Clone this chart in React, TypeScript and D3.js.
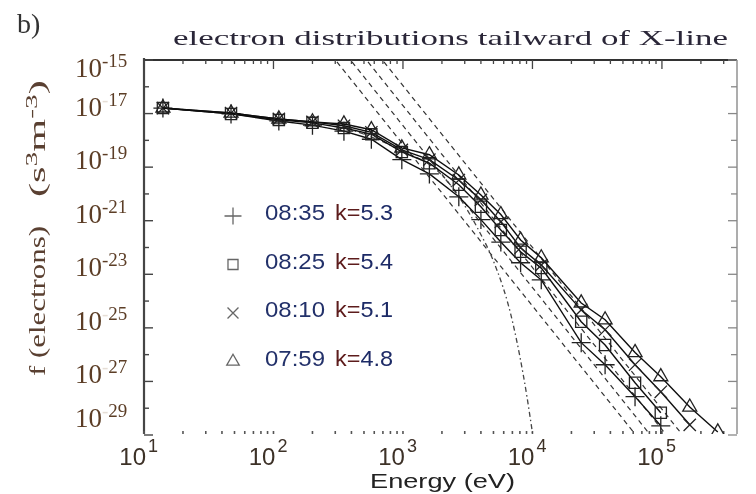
import React from "react";
import * as d3 from "d3";

// electron distribution f(E) for four intervals, tailward of the X-line
const width = 756;
const height = 494;
const plot = { left: 144, right: 737, top: 60, bottom: 434 };

const energies = [14, 47, 110, 200, 350, 570, 980, 1600, 2700, 4000, 5700, 8100, 11700, 23800, 36400, 62000, 98000, 164000, 270000];

const f0835 = [1.6e-17, 9.7e-18, 5.3e-18, 3.7e-18, 2.2e-18, 1.1e-18, 1.9e-19, 5.6e-20, 7.8e-21, 1.1e-21, 1.6e-22, 2.7e-23, 6.2e-24, 2.8e-26, 4.2e-27, 2.7e-28, 2.2e-29];
const f0825 = [1.6e-17, 9.7e-18, 5.8e-18, 4.5e-18, 2.9e-18, 1.7e-18, 3.7e-19, 1.4e-19, 2.2e-20, 3.3e-21, 4.5e-22, 6.9e-23, 1.7e-23, 1.7e-25, 2.3e-26, 8.9e-28, 6.8e-29];
const f0810 = [1.6e-17, 1.05e-17, 6.3e-18, 4.9e-18, 3.5e-18, 2.0e-18, 4.4e-19, 1.9e-19, 3.3e-20, 6.0e-21, 9.1e-22, 9.8e-23, 2.2e-23, 4.7e-25, 8.5e-26, 4.2e-27, 4.1e-28, 2.4e-29];
const f0759 = [1.62e-17, 1.05e-17, 6.3e-18, 4.9e-18, 4.1e-18, 2.5e-18, 5.2e-19, 2.9e-19, 5.1e-20, 9.1e-21, 1.7e-21, 1.9e-22, 4.1e-23, 8.5e-25, 2.0e-25, 1.2e-26, 1.5e-27, 1.1e-28, 1.3e-29];

const times = ["08:35", "08:25", "08:10", "07:59"];
const kappas = ["5.3", "5.4", "5.1", "4.8"];
const seriesValues = [f0835, f0825, f0810, f0759];

// power law tails (dashed), start and end
const fitStartE = [309, 404, 537, 713];
const fitStartF = [8.5e-16, 8.5e-16, 8.5e-16, 8.5e-16];
const fitEndE = [6.1e4, 7.9e4, 1.05e5, 1.4e5];
const fitEndF = [1.2e-29, 1.2e-29, 1.2e-29, 1.2e-29];

// maxwellian core (dash-dot)
const maxwellE = [300, 950, 2000, 3940, 4950, 7060, 9070, 10000];
const maxwellF = [4e-18, 4.4e-19, 5e-20, 3.5e-22, 3.5e-23, 1.5e-25, 2.7e-28, 1.2e-29];

const yExponents = [-15, -17, -19, -21, -23, -25, -27, -29];
const fadedMinus = [-17, -25, -27, -29];
const xExponents = [1, 2, 3, 4, 5];

const serif = "'Liberation Serif', 'DejaVu Serif', serif";
const sans = "'Liberation Sans', Arial, sans-serif";

const xScale = d3.scaleLog().domain([10, 3.8e5]).range([plot.left, plot.right]);
const yScale = d3.scaleLog().domain([1e-29, 1e-15]).range([435, plot.top]);

const symbolTypes = [d3.symbolPlus, d3.symbolSquare2, d3.symbolTimes, d3.symbolTriangle2];
const symbolSizes = [120, 160, 100, 140];

function App() {
  const line = d3
    .line<[number, number]>()
    .x((d) => xScale(d[0]))
    .y((d) => yScale(d[1]));
  const curve = d3
    .line<[number, number]>()
    .x((d) => xScale(d[0]))
    .y((d) => yScale(d[1]))
    .curve(d3.curveMonotoneX);

  const series = seriesValues.map((vals) => vals.map((v, i) => [energies[i], v] as [number, number]));
  const maxwell = maxwellE.map((e, i) => [e, maxwellF[i]] as [number, number]);

  const xTicks = xScale.ticks();
  const decades = d3.range(-29, -14);

  return (
    <svg width={width} height={height} style={{ display: "block", position: "absolute", left: 0, top: 0 }}>
      <defs>
        <clipPath id="plotClip">
          <rect x={plot.left} y={plot.top} width={plot.right - plot.left} height={plot.bottom - plot.top} />
        </clipPath>
        <filter id="soft" x="-5%" y="-5%" width="110%" height="110%">
          <feGaussianBlur stdDeviation="0.5" />
        </filter>
      </defs>
      <rect width={width} height={height} fill="#fff" />
      <g filter="url(#soft)">
        <text x={17} y={33} fontFamily={serif} fontSize={28} fill="#333">b)</text>
        <text x={173} y={45} fontFamily={serif} fontSize={22} fill="#2c2838" textLength={555} lengthAdjust="spacingAndGlyphs">
          electron distributions tailward of X-line
        </text>

        {/* axis frame */}
        <line x1={plot.left} x2={plot.left} y1={58} y2={plot.bottom} stroke="#444" strokeWidth={2.2} />
        <line x1={plot.left} x2={plot.right} y1={plot.top} y2={plot.top} stroke="#333" strokeWidth={2} />
        <line x1={plot.right} x2={plot.right} y1={plot.top} y2={plot.bottom} stroke="#999" strokeWidth={1.6} />

        {/* top + bottom ticks */}
        {xTicks.map((t, i) => {
          const major = Math.abs(Math.log10(t) - Math.round(Math.log10(t))) < 1e-9;
          const x = xScale(t);
          return (
            <g key={"xt" + i}>
              <line x1={x} x2={x} y1={plot.top} y2={plot.top + (major ? 9 : 4)} stroke="#444" strokeWidth={1.3} />
              <line x1={x} x2={x} y1={plot.bottom - 3} y2={plot.bottom} stroke="#555" strokeWidth={1.6} />
            </g>
          );
        })}

        {/* left + right ticks */}
        {decades.map((e) => {
          const y = yScale(Math.pow(10, e));
          const major = Math.abs(e) % 2 === 1;
          return (
            <g key={"yt" + e}>
              <line x1={plot.left} x2={plot.left + (major ? 9 : 5)} y1={y} y2={y} stroke="#444" strokeWidth={1.4} />
              <line x1={plot.right} x2={plot.right - (major ? 9 : 6)} y1={y} y2={y} stroke="#888" strokeWidth={1.3} />
            </g>
          );
        })}

        {/* y tick labels */}
        {yExponents.map((e) => {
          const base = Math.min(427, Math.max(77, yScale(Math.pow(10, e)) + 2));
          const faded = fadedMinus.includes(e);
          return (
            <g key={"yl" + e} fontFamily={serif} fill="#5b3d26">
              <text x={102} y={base} textAnchor="end" fontSize={27}>10</text>
              <text x={102} y={base - 10} fontSize={19}>
                <tspan fill={faded ? "#e6ded6" : "#5b3d26"}>-</tspan>
                {String(Math.abs(e))}
              </text>
            </g>
          );
        })}

        {/* x tick labels */}
        {xExponents.map((e) => {
          const x = xScale(Math.pow(10, e));
          return (
            <g key={"xl" + e} fontFamily={sans} fill="#3c3028">
              <text x={x + 2} y={465} textAnchor="end" fontSize={24}>10</text>
              <text x={x + 4} y={452} fontSize={18}>{e}</text>
            </g>
          );
        })}

        <text x={370} y={488} fontFamily={sans} fontSize={21} fill="#222" textLength={145} lengthAdjust="spacingAndGlyphs">
          Energy  (eV)
        </text>

        {/* y axis title */}
        <text transform="translate(45,376) rotate(-90)" fontFamily={serif} fontSize={23} fill="#5a4030" textLength={150} lengthAdjust="spacingAndGlyphs">
          f (electrons)
        </text>
        <text transform="translate(45,197) rotate(-90)" fontFamily={serif} fontSize={23} fill="#5a4030" textLength={117} lengthAdjust="spacingAndGlyphs">
          (s<tspan dy={-8} fontSize={16}>3</tspan><tspan dy={8}>m</tspan><tspan dy={-8} fontSize={16}>-3</tspan><tspan dy={8}>)</tspan>
        </text>

        <g clipPath="url(#plotClip)">
          {/* maxwellian */}
          <path d={curve(maxwell) || ""} fill="none" stroke="#444" strokeWidth={1.3} strokeDasharray="5,3,1.5,3" />
          {/* power law tails */}
          {fitStartE.map((e, i) => (
            <path
              key={"fit" + i}
              d={line([[e, fitStartF[i]], [fitEndE[i], fitEndF[i]]]) || ""}
              fill="none"
              stroke="#333"
              strokeWidth={1.2}
              strokeDasharray="5,4"
            />
          ))}
          {/* measured distributions */}
          {series.map((s, si) => (
            <g key={"s" + si}>
              <path d={line(s) || ""} fill="none" stroke="#111" strokeWidth={1.4} />
              {s.map((p, i) => (
                <path
                  key={i}
                  transform={`translate(${xScale(p[0])},${yScale(p[1])})`}
                  d={d3.symbol(symbolTypes[si], symbolSizes[si])() || ""}
                  fill="none"
                  stroke="#222"
                  strokeWidth={1.3}
                />
              ))}
            </g>
          ))}
        </g>

        {/* legend */}
        {times.map((t, i) => {
          const base = 220 + i * 48.5;
          return (
            <g key={"lg" + i}>
              <path
                transform={`translate(233,${base - 4})`}
                d={d3.symbol(symbolTypes[i], symbolSizes[i] * 0.8)() || ""}
                fill="none"
                stroke="#666"
                strokeWidth={1.3}
              />
              <text x={265} y={base} fontFamily={sans} fontSize={22} fill="#24306a" textLength={60} lengthAdjust="spacingAndGlyphs">
                {t}
              </text>
              <text x={335} y={base} fontFamily={sans} fontSize={22} textLength={58} lengthAdjust="spacingAndGlyphs">
                <tspan fill="#5c1a1a">k=</tspan>
                <tspan fill="#1c2a66">{kappas[i]}</tspan>
              </text>
            </g>
          );
        })}
      </g>
    </svg>
  );
}

export default App;
